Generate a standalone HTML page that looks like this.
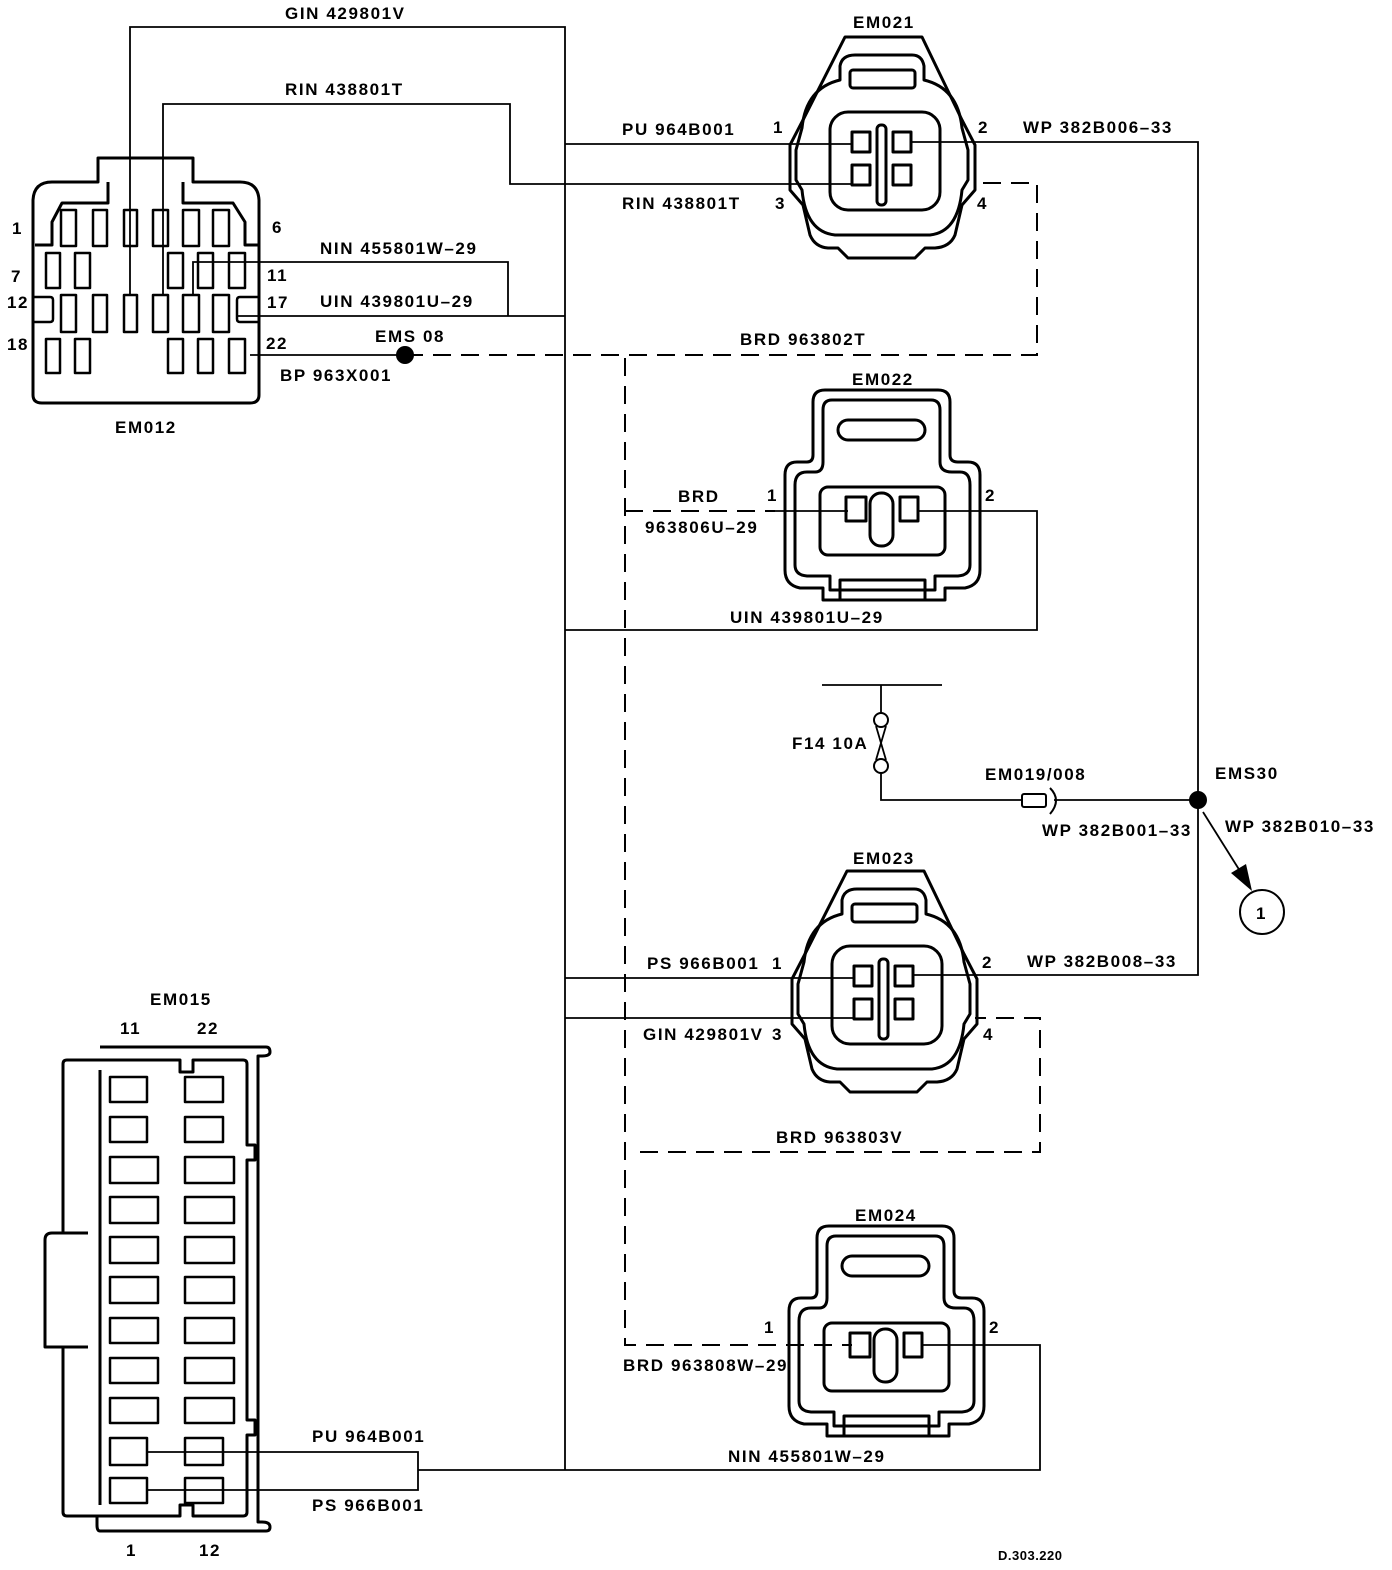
<!DOCTYPE html>
<html><head><meta charset="utf-8"><style>
html,body{margin:0;padding:0;background:#fff}
svg{display:block}
text{font-family:"Liberation Sans",sans-serif;font-weight:bold;font-size:17px;letter-spacing:1.6px;fill:#000}
</style></head><body>
<svg width="1392" height="1570" viewBox="0 0 1392 1570" xmlns="http://www.w3.org/2000/svg">
<defs>
<g id="c4" fill="none" stroke="#000" stroke-width="3" stroke-linejoin="round">
<path d="M845,37 L922,37 L962,120 L975,145 L975,190 L962,205 L955,235 Q950,247 935,248 L925,248 L915,258 H848 L838,248 H828 Q815,247 810,235 L803,205 L790,190 L790,145 L803,120 Z"/>
<path d="M855,55 H912 Q922,55 924,66 V80 Q958,88 962,128 L968,150 V180 L962,190 Q958,232 930,235 H835 Q806,232 802,190 L796,180 V150 L802,128 Q806,88 840,80 V66 Q842,55 855,55 Z"/>
<rect x="850" y="70" width="65" height="18" rx="3"/>
<rect x="830" y="112" width="110" height="98" rx="18"/>
<rect x="852" y="132" width="18" height="20"/>
<rect x="852" y="165" width="18" height="20"/>
<rect x="893" y="132" width="18" height="20"/>
<rect x="893" y="165" width="18" height="20"/>
<rect x="877" y="125" width="9" height="80" rx="4"/>
</g>
<g id="c2" fill="none" stroke="#000" stroke-width="3" stroke-linejoin="round">
<path d="M825,390 H938 Q950,390 950,402 V455 Q950,462 958,462 H968 Q980,462 980,475 V570 Q980,585 965,588 H945 V600 H823 V588 H800 Q785,585 785,570 V475 Q785,462 797,462 H807 Q813,462 813,455 V402 Q813,390 825,390Z"/>
<path d="M832,400 H931 Q940,400 940,410 V462 Q940,472 952,472 H960 Q970,472 970,485 V565 Q970,575 958,576 H935 V590 H830 V576 H807 Q795,575 795,565 V485 Q795,472 807,472 H815 Q823,472 823,462 V410 Q823,400 832,400Z"/>
<rect x="840" y="580" width="85" height="20"/>
<rect x="838" y="420" width="87" height="20" rx="10"/>
<rect x="820" y="487" width="125" height="68" rx="8"/>
<rect x="846" y="497" width="20" height="24"/>
<rect x="900" y="497" width="18" height="24"/>
<rect x="870" y="493" width="23" height="53" rx="11"/>
</g>
</defs>

<!-- EM012 -->
<g fill="none" stroke="#000" stroke-width="3" stroke-linejoin="round">
<path d="M98,158 H193 V182 H240 Q258,182 259,200 V395 Q259,403 250,403 H42 Q33,403 33,395 V200 Q34,182 52,182 H98 Z"/>
<path d="M35,245 H52 V222 L62,203 H108 V182 M183,182 V203 H233 L245,222 V245 H258"/>
<g stroke-width="2.5">
<rect x="61" y="210" width="15" height="36"/><rect x="93" y="210" width="14" height="36"/><rect x="124" y="210" width="13" height="36"/><rect x="153" y="210" width="15" height="36"/><rect x="183" y="210" width="16" height="36"/><rect x="213" y="210" width="16" height="36"/>
<rect x="46" y="253" width="14" height="35"/><rect x="75" y="253" width="15" height="35"/><rect x="168" y="253" width="15" height="35"/><rect x="198" y="253" width="15" height="35"/><rect x="229" y="253" width="16" height="35"/>
<rect x="61" y="295" width="15" height="37"/><rect x="93" y="295" width="14" height="37"/><rect x="124" y="295" width="13" height="37"/><rect x="153" y="295" width="15" height="37"/><rect x="183" y="295" width="16" height="37"/><rect x="213" y="295" width="16" height="37"/>
<path d="M33,297 H50 Q53,297 53,300 V319 Q53,322 50,322 H33"/>
<path d="M258,297 H240 Q237,297 237,300 V319 Q237,322 240,322 H258"/>
<rect x="46" y="339" width="14" height="34"/><rect x="75" y="339" width="15" height="34"/><rect x="168" y="339" width="15" height="34"/><rect x="198" y="339" width="15" height="34"/><rect x="229" y="339" width="16" height="34"/>
</g>
</g>

<use href="#c4"/>
<use href="#c4" transform="translate(2,834)"/>
<use href="#c2"/>
<use href="#c2" transform="translate(4,836)"/>

<!-- EM015 -->
<g fill="none" stroke="#000" stroke-width="3" stroke-linejoin="round">
<path d="M100,1047 H266 Q270,1047 270,1052 Q270,1056 262,1056 H258 V1522 H262 Q270,1522 270,1527 Q270,1531 266,1531 H100 Q97,1531 97,1525 V1517"/>
<path d="M67,1060 H180 V1072 H193 V1060 H243 Q247,1060 247,1064 V1145 H255 V1160 H247 V1420 H255 V1435 H247 V1512 Q247,1516 243,1516 H193 V1505 H180 V1516 H67 Q63,1516 63,1512 V1347 H45 Q45,1347 45,1340 V1240 Q45,1233 52,1233 H88 M63,1233 V1064 Q63,1060 67,1060"/>
<path d="M63,1347 H88 M100,1070 V1505"/>
<g stroke-width="2.5">
<rect x="110" y="1077" width="37" height="25"/><rect x="185" y="1077" width="38" height="25"/>
<rect x="110" y="1117" width="37" height="25"/><rect x="185" y="1117" width="38" height="25"/>
<rect x="110" y="1157" width="48" height="26"/><rect x="185" y="1157" width="49" height="26"/>
<rect x="110" y="1197" width="48" height="26"/><rect x="185" y="1197" width="49" height="26"/>
<rect x="110" y="1237" width="48" height="26"/><rect x="185" y="1237" width="49" height="26"/>
<rect x="110" y="1277" width="48" height="26"/><rect x="185" y="1277" width="49" height="26"/>
<rect x="110" y="1318" width="48" height="25"/><rect x="185" y="1318" width="49" height="25"/>
<rect x="110" y="1358" width="48" height="25"/><rect x="185" y="1358" width="49" height="25"/>
<rect x="110" y="1398" width="48" height="25"/><rect x="185" y="1398" width="49" height="25"/>
<rect x="110" y="1438" width="37" height="27"/><rect x="185" y="1438" width="38" height="27"/>
<rect x="110" y="1478" width="37" height="25"/><rect x="185" y="1478" width="38" height="25"/>
</g>
</g>

<!-- solid wires -->
<g fill="none" stroke="#000" stroke-width="1.8">
<path d="M130,295 V27 H565 V1470"/>
<path d="M163,295 V104 H510 V184 H852"/>
<path d="M193,295 V262 H508 V316"/>
<path d="M237,316 H565"/>
<path d="M250,355 H405"/>
<path d="M565,144 H852"/>
<path d="M911,142 H1198 V975 H913"/>
<path d="M565,630 H1037 V511 H918"/>
<path d="M565,978 H854 M565,1018 H854"/>
<path d="M147,1452 H418 V1490 H147 M418,1470 H1040 V1345 H922"/>
<path d="M822,685 H942 M881,685 V713 M881,772 V800 H1022 M1054,800 H1198"/>
<path d="M876,726 L886,760 M886,726 L876,760"/>
<path d="M1203,812 L1245,879"/>
<path d="M848,511 H775"/>
</g>
<g fill="none" stroke="#000" stroke-width="2" stroke-dasharray="18,10">
<path d="M405,355 H1037 V183 H975"/>
<path d="M625,358 V1345 H852"/>
<path d="M625,511 H775"/>
<path d="M640,1152 H1040 V1018 H975"/>
</g>
<g fill="none" stroke="#000" stroke-width="2">
<circle cx="881" cy="720" r="7"/>
<circle cx="881" cy="766" r="7"/>
<rect x="1022" y="794" width="24" height="13" rx="2"/>
<path d="M1050,788 Q1062,800 1050,814"/>
<circle cx="1262" cy="912" r="22"/>
</g>
<circle cx="405" cy="355" r="9" fill="#000"/>
<circle cx="1198" cy="800" r="9" fill="#000"/>
<polygon points="1252,891 1246,864 1231,873" fill="#000"/>

<g>
<text x="285" y="19">GIN 429801V</text>
<text x="285" y="95">RIN 438801T</text>
<text x="853" y="28">EM021</text>
<text x="622" y="135">PU 964B001</text>
<text x="773" y="133">1</text>
<text x="978" y="133">2</text>
<text x="1023" y="133">WP 382B006–33</text>
<text x="622" y="209">RIN 438801T</text>
<text x="775" y="209">3</text>
<text x="977" y="209">4</text>
<text x="12" y="234">1</text>
<text x="272" y="233">6</text>
<text x="11" y="282">7</text>
<text x="267" y="281">11</text>
<text x="7" y="308">12</text>
<text x="267" y="308">17</text>
<text x="7" y="350">18</text>
<text x="266" y="349">22</text>
<text x="320" y="254">NIN 455801W–29</text>
<text x="320" y="307">UIN 439801U–29</text>
<text x="375" y="342">EMS 08</text>
<text x="280" y="381">BP 963X001</text>
<text x="115" y="433">EM012</text>
<text x="740" y="345">BRD 963802T</text>
<text x="852" y="385">EM022</text>
<text x="678" y="502">BRD</text>
<text x="767" y="501">1</text>
<text x="985" y="501">2</text>
<text x="645" y="533">963806U–29</text>
<text x="730" y="623">UIN 439801U–29</text>
<text x="792" y="749">F14 10A</text>
<text x="985" y="780">EM019/008</text>
<text x="1215" y="779">EMS30</text>
<text x="1042" y="836">WP 382B001–33</text>
<text x="1225" y="832">WP 382B010–33</text>
<text x="1256" y="919">1</text>
<text x="853" y="864">EM023</text>
<text x="647" y="969">PS 966B001</text>
<text x="772" y="969">1</text>
<text x="982" y="968">2</text>
<text x="1027" y="967">WP 382B008–33</text>
<text x="643" y="1040">GIN 429801V</text>
<text x="772" y="1040">3</text>
<text x="983" y="1040">4</text>
<text x="776" y="1143">BRD 963803V</text>
<text x="150" y="1005">EM015</text>
<text x="120" y="1034">11</text>
<text x="197" y="1034">22</text>
<text x="126" y="1556">1</text>
<text x="199" y="1556">12</text>
<text x="855" y="1221">EM024</text>
<text x="764" y="1333">1</text>
<text x="989" y="1333">2</text>
<text x="623" y="1371">BRD 963808W–29</text>
<text x="728" y="1462">NIN 455801W–29</text>
<text x="312" y="1442">PU 964B001</text>
<text x="312" y="1511">PS 966B001</text>
<text x="998" y="1560" style="font-size:13px;letter-spacing:0.5px">D.303.220</text>
</g>
</svg>
</body></html>
